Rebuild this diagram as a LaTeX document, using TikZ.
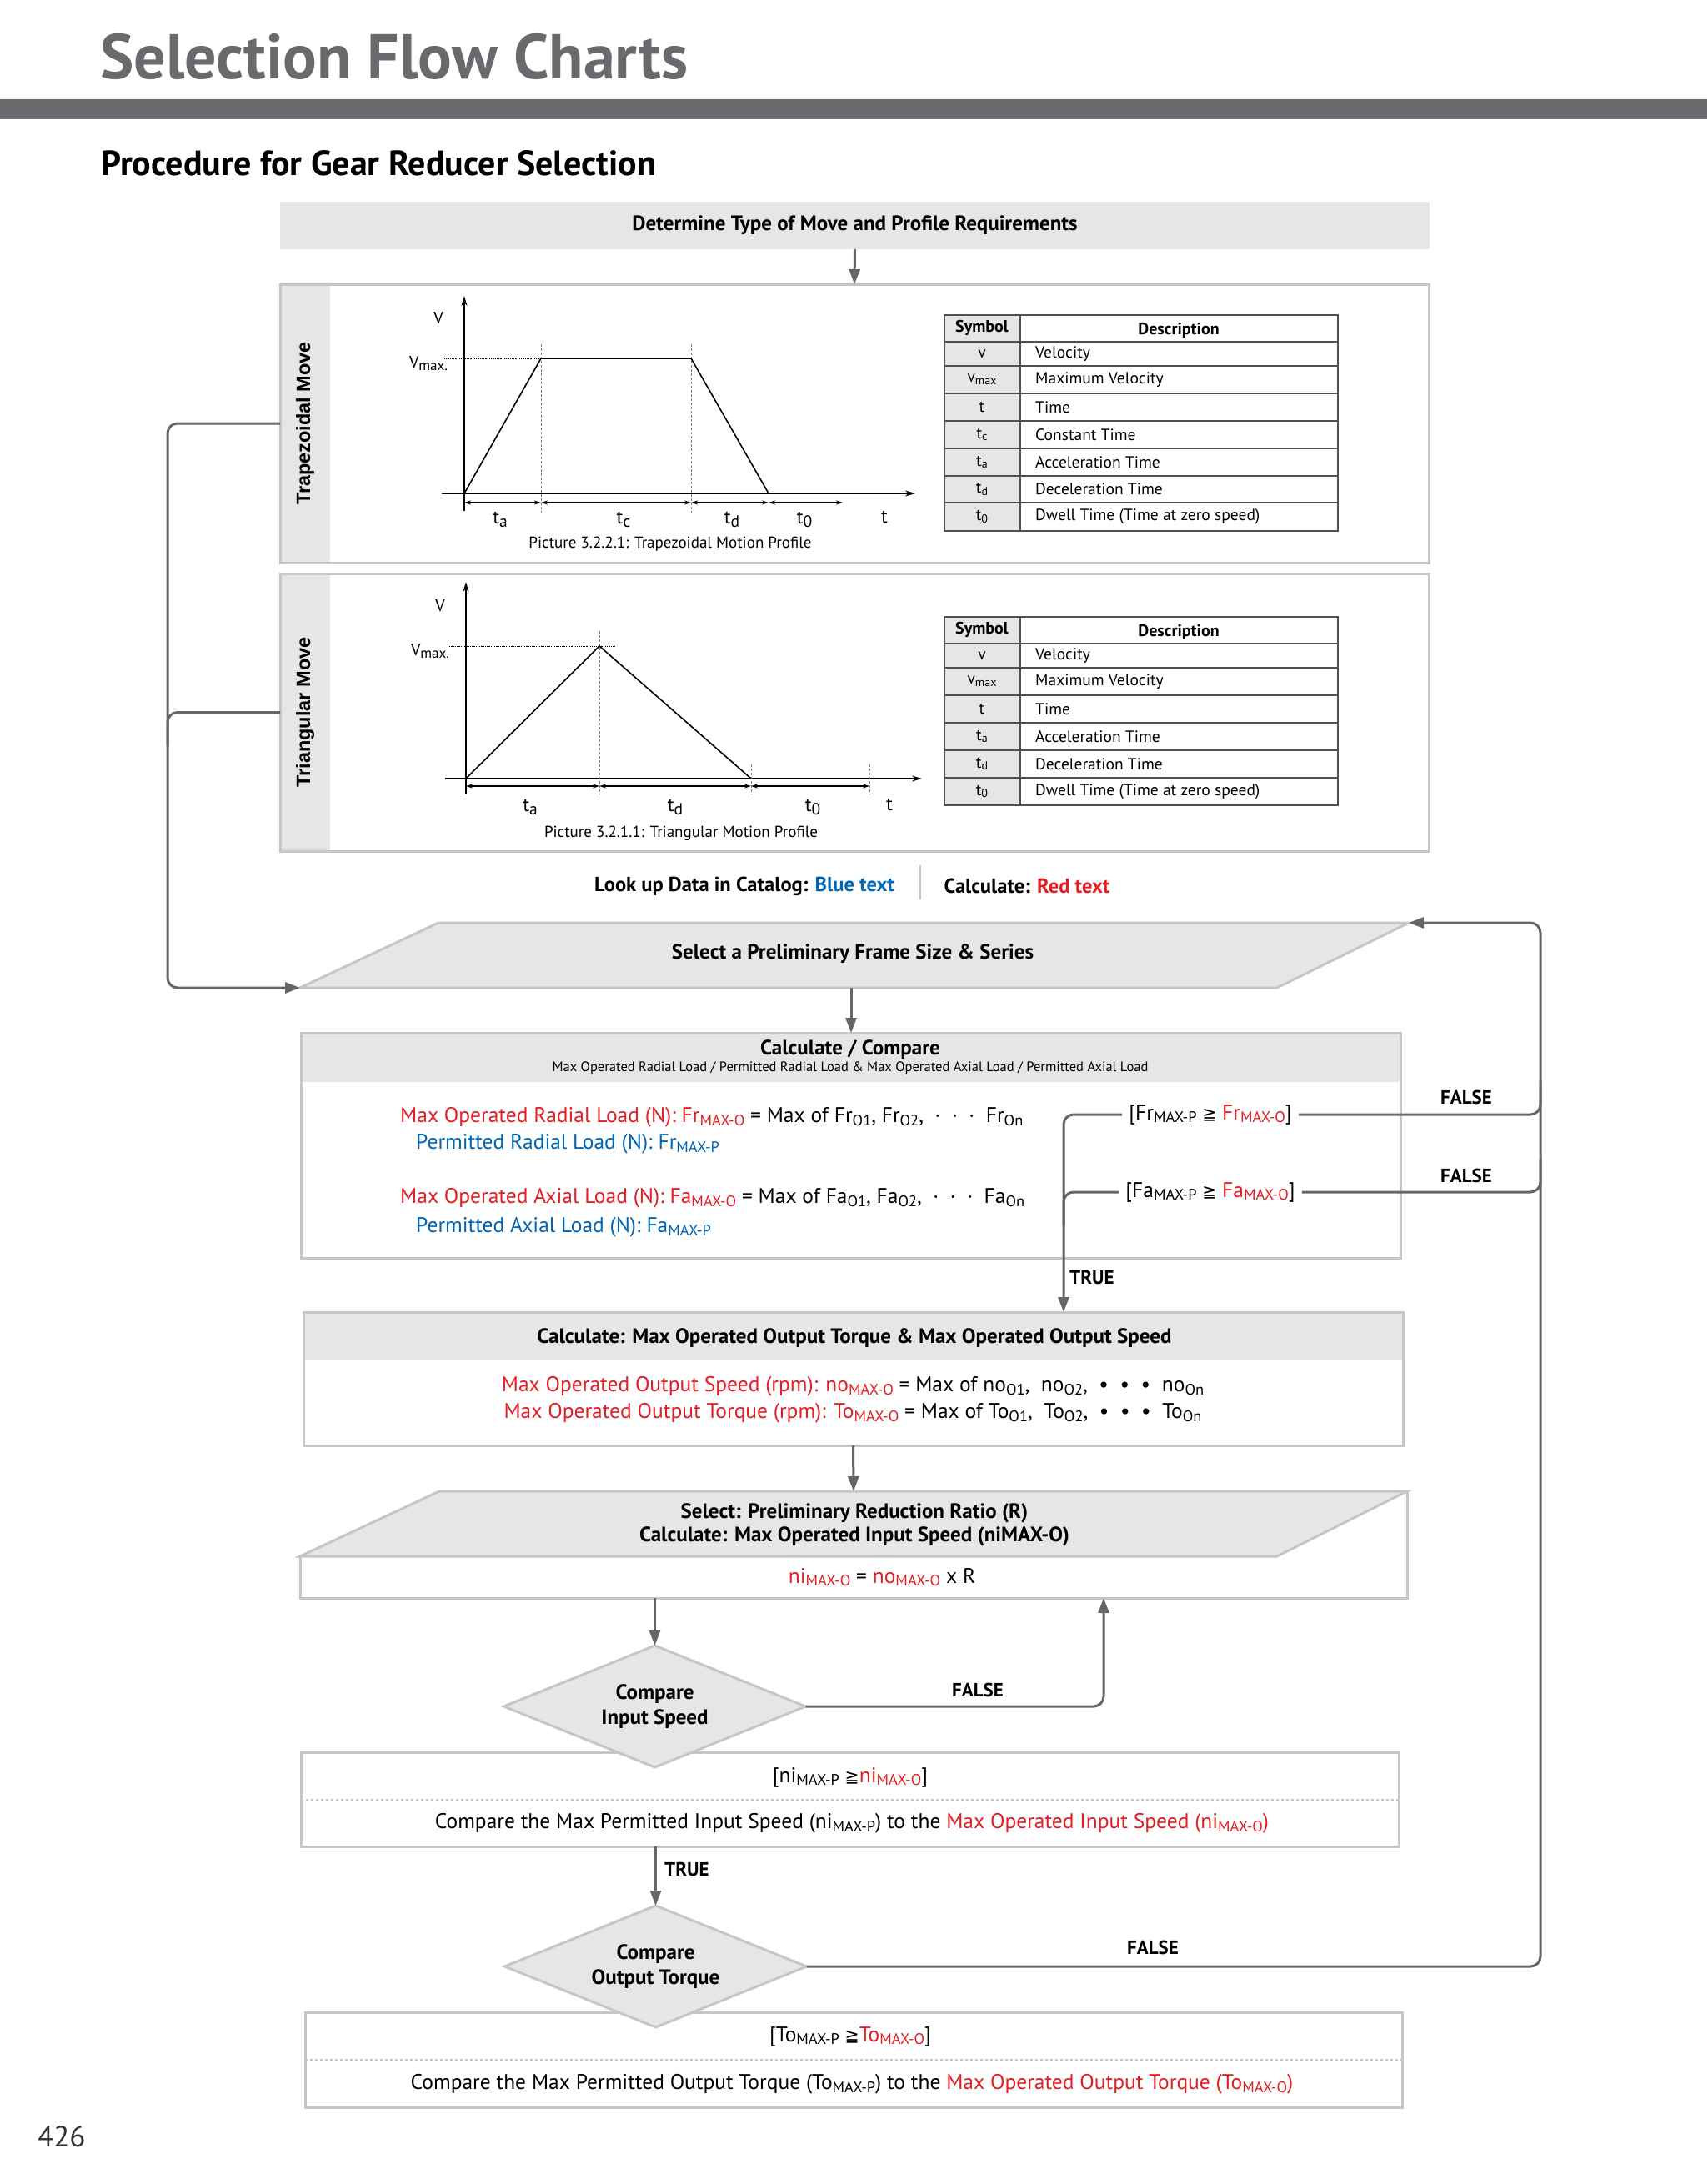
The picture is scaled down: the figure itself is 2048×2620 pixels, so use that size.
\documentclass[tikz,border=0pt]{standalone}
\usepackage{fontspec}
\setmainfont{PT Sans}
\newfontfamily\symfont{DejaVu Sans}
\newfontfamily\movefont{Liberation Sans}
\usepackage{graphicx}
\usepackage{tikz}
\usetikzlibrary{positioning, shapes.geometric, arrows.meta, calc}
\definecolor{linegray}{HTML}{666666}
\definecolor{edgegray}{HTML}{C6C6C8}
\definecolor{boxfill}{HTML}{E6E6E7}
\definecolor{titlegray}{HTML}{696A6D}
\definecolor{tablegray}{HTML}{505050}
\definecolor{pagegray}{HTML}{333333}
\definecolor{catblue}{HTML}{0066B3}
\definecolor{calcred}{HTML}{E31E24}

\newcommand{\lo}[1]{\raisebox{-0.3ex}{\scalebox{0.72}{#1}}}
\newcommand{\lob}[1]{\raisebox{-0.35ex}{\scalebox{0.85}{#1}}}
\newcommand{\gqq}{{\symfont\scalebox{0.8}{≧}}}
\newcommand{\cblue}[1]{\textcolor{catblue}{#1}}
\newcommand{\cred}[1]{\textcolor{calcred}{#1}}

\begin{document}
\begin{tikzpicture}[x=1pt, y=-1pt,
    every node/.style={inner sep=2pt, align=center},
    txt/.style      ={font=\fontsize{25.5}{30}\selectfont},
    boldtext/.style ={font=\fontsize{25}{28}\selectfont\bfseries},
    flagtext/.style ={font=\fontsize{23}{26}\selectfont\bfseries},
    legendtext/.style={font=\fontsize{24.5}{28}\selectfont\bfseries},
    charttext/.style={font=\fontsize{23}{25}\selectfont},
    captext/.style  ={font=\fontsize{19}{21}\selectfont},
    tabletext/.style={font=\fontsize{19.5}{22}\selectfont},
    tablehead/.style={font=\fontsize{20}{22}\selectfont\bfseries},
    panel/.style    ={draw=edgegray, line width=3pt, fill=white, outer sep=0pt},
    panelline/.style={draw=edgegray, line width=3pt},
    hdrfill/.style  ={fill=boxfill, outer sep=0pt},
    pgram/.style    ={draw=edgegray, line width=3pt, fill=boxfill},
    decision/.style ={diamond, aspect=2.48, draw=edgegray, line width=3pt, fill=boxfill, outer sep=0pt,
                      minimum width=362pt, minimum height=146pt, inner sep=0pt,
                      font=\fontsize{25}{30}\selectfont\bfseries},
    flow/.style     ={-{Triangle[length=18pt,width=13pt]}, line width=3pt, draw=linegray, rounded corners=12pt},
    link/.style     ={line width=3pt, draw=linegray, rounded corners=12pt},
    chartaxis/.style={-{Stealth[length=12pt,width=7pt]}, line width=1.6pt},
    dimarrow/.style ={{Stealth[length=8pt,width=5pt]}-{Stealth[length=8pt,width=5pt]}, line width=1.2pt},
    guide/.style    ={densely dashed, line width=0.8pt, draw=gray},
    tablerule/.style={draw=tablegray, line width=2pt},
    vlabel/.style   ={rotate=90, font=\fontsize{23.5}{26}\selectfont\movefont\bfseries}
]
\useasboundingbox (0,0) rectangle (2048,2620);

% ========== Page head ==========
\node[anchor=base west, inner sep=0pt, text=titlegray, font=\fontsize{76}{82}\selectfont\bfseries] (title) at (120,95) {Selection Flow Charts};
\fill[titlegray] (0,119) rectangle (2048,143);
\node[anchor=base west, inner sep=0pt, font=\fontsize{42}{46}\selectfont\bfseries] (subtitle) at (121,210) {Procedure for Gear Reducer Selection};

% ========== Move type ==========
\node[hdrfill, minimum width=1379pt, minimum height=57pt, boldtext] (determine) at (1025.5,270.5) {Determine Type of Move and Profile Requirements};

% ========== Trapezoidal panel ==========
\node[panel, minimum width=1378pt, minimum height=334pt] (trapbox) at (1025,508) {};
\fill[boxfill] ([shift={(1.5pt,-1.5pt)}]trapbox.north west) rectangle ([shift={(60pt,1.5pt)}]trapbox.south west);
\node[vlabel] (traplabel) at ([xshift=30pt]trapbox.west) {Trapezoidal Move};

\draw[chartaxis] (557,613) -- (557,355);
\draw[chartaxis] (530,592) -- (1098,592);
\draw[densely dotted, line width=0.8pt] (533,430) -- (649,430);
\draw[guide] (649,413) -- (649,615);
\draw[guide] (829,413) -- (829,615);
\draw[line width=1.6pt] (557,592) -- (649,430) -- (829,430) -- (922,592);
\foreach \a/\b in {557/649, 649/829, 829/922, 922/1011}
    \draw[dimarrow] (\a,603) -- (\b,603);
\node[charttext, font=\fontsize{20}{22}\selectfont] (trapv) at (526,382) {V};
\node[charttext, font=\fontsize{20}{22}\selectfont] (trapvmax) at (514,436) {V\lob{max.}};
\foreach \x/\s/\n in {600/a/ta, 748/c/tc, 878/d/td, 965/0/tz}
    \node[charttext] (trap\n) at (\x,623) {t\lob{\s}};
\node[charttext] (trapt) at (1061,620) {t};
\node[captext] (trapcap) at (804,653) {Picture 3.2.2.1: Trapezoidal Motion Profile};

\fill[boxfill] (1133,378) rectangle (1224,637);
\foreach \y in {410,439,472,505,538,571,603}
    \draw[tablerule] (1133,\y) -- (1605,\y);
\draw[tablerule] (1224,378) -- (1224,637);
\draw[tablerule, line width=2.5pt] (1133,378) rectangle (1605,637);
\node[tablehead] (trapsymh) at (1178,393) {Symbol};
\node[tablehead] (trapdesch) at (1414,396) {Description};
\foreach \y/\s/\d [count=\i] in {424.5/v/Velocity, 455.5/{v\lo{max}}/Maximum Velocity, 488.5/t/Time,
        521.5/{t\lo{c}}/Constant Time, 554.5/{t\lo{a}}/Acceleration Time,
        587/{t\lo{d}}/Deceleration Time, 620/{t\lo{0}}/Dwell Time (Time at zero speed)}
{
    \node[tabletext] (trapsym\i) at (1178,\y) {\s};
    \node[tabletext, anchor=west] (trapdesc\i) at (1240,\y) {\d};
}

% ========== Triangular panel ==========
\node[panel, minimum width=1378pt, minimum height=333pt] (tribox) at (1025,854.5) {};
\fill[boxfill] ([shift={(1.5pt,-1.5pt)}]tribox.north west) rectangle ([shift={(60pt,1.5pt)}]tribox.south west);
\node[vlabel] (trilabel) at ([xshift=30pt]tribox.west) {Triangular Move};

\draw[chartaxis] (559,953) -- (559,698);
\draw[chartaxis] (534,934) -- (1106,934);
\draw[densely dotted, line width=0.8pt] (537,775) -- (737,775);
\draw[guide] (719,757) -- (719,953);
\draw[guide] (901,917) -- (901,953);
\draw[guide] (1043,917) -- (1043,953);
\draw[line width=1.6pt] (559,934) -- (719,775) -- (901,934);
\foreach \a/\b in {559/719, 719/901, 901/1043}
    \draw[dimarrow] (\a,943) -- (\b,943);
\node[charttext, font=\fontsize{20}{22}\selectfont] (triv) at (528,727) {V};
\node[charttext, font=\fontsize{20}{22}\selectfont] (trivmax) at (516,781) {V\lob{max.}};
\foreach \x/\s/\n in {636/a/ta, 810/d/td, 975/0/tz}
    \node[charttext] (tri\n) at (\x,968) {t\lob{\s}};
\node[charttext] (trit) at (1067,965) {t};
\node[captext] (tricap) at (817,1000) {Picture 3.2.1.1: Triangular Motion Profile};

\fill[boxfill] (1133,740) rectangle (1224,966);
\foreach \y in {772,801,834,867,900,933}
    \draw[tablerule] (1133,\y) -- (1605,\y);
\draw[tablerule] (1224,740) -- (1224,966);
\draw[tablerule, line width=2.5pt] (1133,740) rectangle (1605,966);
\node[tablehead] (trisymh) at (1178,755) {Symbol};
\node[tablehead] (tridesch) at (1414,758) {Description};
\foreach \y/\s/\d [count=\i] in {786.5/v/Velocity, 817.5/{v\lo{max}}/Maximum Velocity, 850.5/t/Time,
        883.5/{t\lo{a}}/Acceleration Time, 916.5/{t\lo{d}}/Deceleration Time,
        949.5/{t\lo{0}}/Dwell Time (Time at zero speed)}
{
    \node[tabletext] (trisym\i) at (1178,\y) {\s};
    \node[tabletext, anchor=west] (tridesc\i) at (1240,\y) {\d};
}

% ========== Legend ==========
\node[legendtext] (lookup) at (893,1063) {Look up Data in Catalog: \cblue{Blue text}};
\node[legendtext] (calclegend) at (1232,1063) {Calculate: \cred{Red text}};
\draw[edgegray, line width=2pt] (1104,1038) -- (1104,1079);

% ========== Frame size ==========
\coordinate (frameTL) at (526,1107);
\coordinate (frameTR) at (1690,1107);
\coordinate (frameBR) at (1532,1185);
\coordinate (frameBL) at (360,1185);
\coordinate (frameB)  at (1021,1185);
\draw[pgram] (frameTL) -- (frameTR) -- (frameBR) -- (frameBL) -- cycle;
\node[boldtext] (frame) at (1023,1144) {Select a Preliminary Frame Size \& Series};

% ========== Radial / axial load ==========
\node[panel, minimum width=1319pt, minimum height=270pt] (calccomp) at (1020.5,1374) {};
\fill[boxfill] ([shift={(1.5pt,-1.5pt)}]calccomp.north west) rectangle ([shift={(-1.5pt,-59pt)}]calccomp.north east);
\node[boldtext] (calchead) at (1020,1259) {Calculate / Compare};
\node[font=\fontsize{16.5}{18}\selectfont] (calcsub) at (1020,1281) {Max Operated Radial Load / Permitted Radial Load \& Max Operated Axial Load / Permitted Axial Load};

\node[txt, anchor=west] (radmax) at (478,1340) {\cred{Max Operated Radial Load (N): Fr\lo{MAX-O}} = Max of Fr\lo{O1}, Fr\lo{O2}, \ · \ · \ · \ Fr\lo{On}};
\node[txt, anchor=west] (radperm) at (497,1372) {\cblue{Permitted Radial Load (N): Fr\lo{MAX-P}}};
\node[txt, anchor=west] (axmax) at (478,1437) {\cred{Max Operated Axial Load (N): Fa\lo{MAX-O}} = Max of Fa\lo{O1}, Fa\lo{O2}, \ · \ · \ · \ Fa\lo{On}};
\node[txt, anchor=west] (axperm) at (497,1472) {\cblue{Permitted Axial Load (N): Fa\lo{MAX-P}}};

\node[txt, inner sep=8pt] (frcmp) at (1452,1337) {[Fr\lo{MAX-P} \gqq{} \cred{Fr\lo{MAX-O}}]};
\node[txt, inner sep=8pt] (facmp) at (1452,1430) {[Fa\lo{MAX-P} \gqq{} \cred{Fa\lo{MAX-O}}]};

% ========== Output torque / speed ==========
\node[panel, minimum width=1319pt, minimum height=160pt] (outcalc) at (1023.5,1654) {};
\fill[boxfill] ([shift={(1.5pt,-1.5pt)}]outcalc.north west) rectangle ([shift={(-1.5pt,-58pt)}]outcalc.north east);
\node[boldtext] (outhead) at (1025,1605) {Calculate: Max Operated Output Torque \& Max Operated Output Speed};
\node[txt] (outspeed) at (1023,1663) {\cred{Max Operated Output Speed (rpm): no\lo{MAX-O}} = Max of no\lo{O1},~ no\lo{O2},~ • ~•~ •~ no\lo{On}};
\node[txt] (outtorque) at (1023,1695) {\cred{Max Operated Output Torque (rpm): To\lo{MAX-O}} = Max of To\lo{O1},~ To\lo{O2},~ • ~•~ •~ To\lo{On}};

% ========== Reduction ratio ==========
\node[minimum width=1328pt, minimum height=128pt, inner sep=0pt, outer sep=0pt] (ratiobox) at (1024,1853) {};
\draw[panelline] (ratiobox.north east) |- (ratiobox.south west) -- ++(0,-50);
\coordinate (ratioTL) at (527,1789);
\coordinate (ratioTR) at (1688,1789);
\coordinate (ratioBR) at (1532,1867);
\coordinate (ratioBL) at (360,1867);
\draw[pgram] (ratioTL) -- (ratioTR) -- (ratioBR) -- (ratioBL) -- cycle;
\node[boldtext] (ratiohead) at (1025,1829) {Select: Preliminary Reduction Ratio (R)\\Calculate: Max Operated Input Speed (niMAX-O)};
\node[txt] (ratioeq) at (1058,1892) {\cred{ni\lo{MAX-O}} = \cred{no\lo{MAX-O}} x R};

% ========== Input speed check ==========
\node[panel, minimum width=1317pt, minimum height=113pt] (inbox) at (1019.5,2158.5) {};
\draw[dashed, edgegray, line width=2pt] (inbox.west) -- (inbox.east);
\node[decision] (cmpin) at (785.5,2047) {Compare\\Input Speed};
\node[txt] (inrule) at (1020,2132) {[ni\lo{MAX-P} \gqq\cred{ni\lo{MAX-O}}]};
\node[txt] (intext) at (1022,2187) {Compare the Max Permitted Input Speed (ni\lo{MAX-P}) to the \cred{Max Operated Input Speed (ni\lo{MAX-O})}};

% ========== Output torque check ==========
\node[panel, minimum width=1316pt, minimum height=114pt] (outbox) at (1024,2471) {};
\draw[dashed, edgegray, line width=2pt] (outbox.west) -- (outbox.east);
\node[decision] (cmpout) at (786.5,2359) {Compare\\Output Torque};
\node[txt] (outrule) at (1020,2443) {[To\lo{MAX-P} \gqq\cred{To\lo{MAX-O}}]};
\node[txt] (outtext) at (1022,2500) {Compare the Max Permitted Output Torque (To\lo{MAX-P}) to the \cred{Max Operated Output Torque (To\lo{MAX-O})}};

\node[anchor=base west, inner sep=0pt, text=pagegray, font=\fontsize{35}{38}\selectfont] (pagenum) at (45,2575) {426};

% ========== ARROWS ==========
% Move type -> profiles
\draw[flow] (determine.south) -- (trapbox.north);

% Profiles -> frame size
\draw[flow] (trapbox.west) -| ($(frameBL)+(-159,0)$) -- (frameBL);
\draw[link] (tribox.west) -| ++(-135,40);

% Frame size -> load check
\draw[flow] (frameB) -- (frameB |- calccomp.north);

% Load check TRUE -> output calc
\coordinate (truebus) at (1276,1337);
\draw[flow] (frcmp.west) -| (truebus |- outcalc.north);
\draw[link] (facmp.west) -| ($(truebus |- facmp.west)+(0,40)$);
\node[flagtext, anchor=west] (truelbl) at (1281,1532) {TRUE};

% FALSE -> back to frame size
\coordinate (falsebus) at (1848,1107);
\draw[flow] (cmpout.east) -| (falsebus) -- (frameTR);
\draw[link] (frcmp.east) -| ($(falsebus |- frcmp.east)+(0,-40)$);
\draw[link] (facmp.east) -| ($(falsebus |- facmp.east)+(0,-40)$);
\node[flagtext] (falsefr) at (1759,1316) {FALSE};
\node[flagtext] (falsefa) at (1759,1410) {FALSE};
\node[flagtext] (falseout) at (1383,2336) {FALSE};

% Output calc -> ratio -> input speed
\draw[flow] (outcalc.south) -- (ratiobox.north);
\draw[flow] (ratiobox.south -| cmpin.north) -- (cmpin.north);

% Input speed FALSE -> ratio
\coordinate (inback) at (1324,1920);
\draw[flow] (cmpin.east) -| (ratiobox.south -| inback);
\node[flagtext] (falsein) at (1173,2027) {FALSE};

% Input speed TRUE -> output torque
\draw[flow] (inbox.south -| cmpout.north) -- (cmpout.north);
\node[flagtext, anchor=west] (truein) at (795,2242) {TRUE};

\end{tikzpicture}
\end{document}
